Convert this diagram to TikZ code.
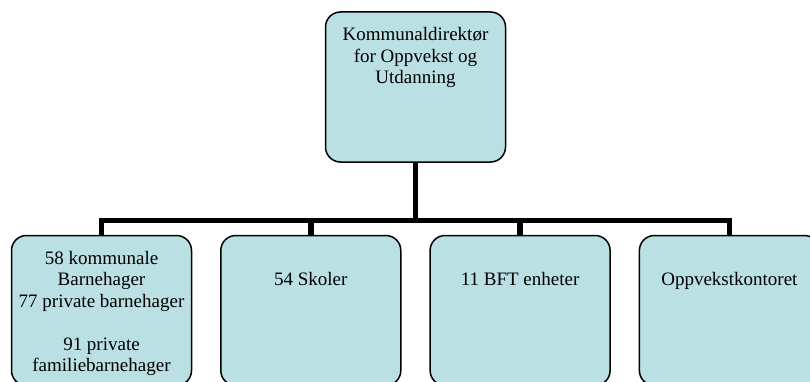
\documentclass[tikz,border=0pt]{standalone}
\usepackage{fontspec}
\setmainfont{Liberation Serif}
\usetikzlibrary{positioning}
\definecolor{boxblue}{HTML}{BBE0E3}
\tikzset{
	box_style/.style = {shape=rectangle, rounded corners=15pt, draw=black, fill=boxblue, line width=1.5pt, minimum width=180pt, minimum height=150pt, inner sep=0pt},
	text_style/.style = {align=center, inner sep=0pt, font=\fontsize{19}{21.5}\selectfont}
}

\begin{document}
\begin{tikzpicture}[x=1pt, y=1pt,
	node distance=209.3pt,
	edge_style/.style={
		draw=black,
		line width=5.5pt
		}
	]
	\useasboundingbox (0,0) rectangle (810,381);
	\clip (0,0) rectangle (810,381);

	% all the boxes
	\node[box_style] (top) at (415.5,294) {};
	\node[box_style] (b1) at (101.5,70.5) {};
	\node[box_style, right of=b1] (b2) {};
	\node[box_style, right of=b2] (b3) {};
	\node[box_style, right of=b3] (b4) {};
	\coordinate (hub) at (415.5,160.5);

	% the texts
	\node[text_style, below=16pt of top.north] (top_text) {Kommunaldirektør\\for Oppvekst og\\Utdanning};
	\node[text_style, below=16pt of b1.north] (b1_text) {58 kommunale\\Barnehager\\77 private barnehager\\[21.5pt]91 private\\familiebarnehager};
	\node[text_style, below=37.5pt of b2.north] (b2_text) {54 Skoler};
	\node[text_style, below=37.5pt of b3.north] (b3_text) {11 BFT enheter};
	\node[text_style, below=37.5pt of b4.north] (b4_text) {Oppvekstkontoret};

	% the lines
	\draw[edge_style] (top) -- (hub);
	\draw[edge_style] (hub) -| (b1);
	\draw[edge_style] (hub) -| (b2);
	\draw[edge_style] (hub) -| (b3);
	\draw[edge_style] (hub) -| (b4);
\end{tikzpicture}
\end{document}
